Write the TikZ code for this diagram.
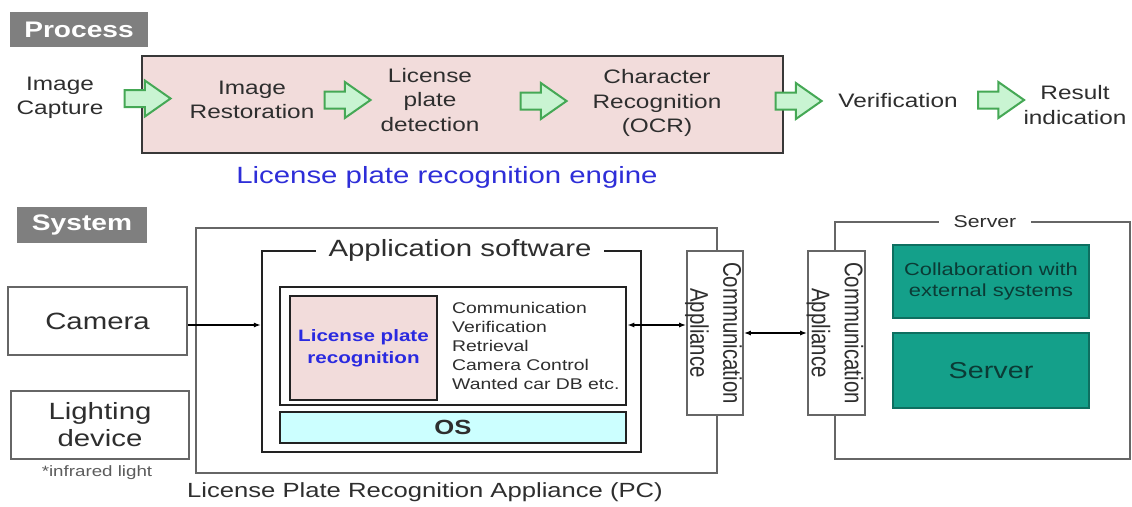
\documentclass[tikz,border=0pt]{standalone}
\usepackage{fontspec}
\setmainfont{Liberation Sans}[FakeStretch=1.25]
\newfontfamily\rotfont{Liberation Sans}[FakeStretch=0.8]
\usetikzlibrary{shapes.arrows,arrows.meta}

\definecolor{txt}{HTML}{2E2E2E}
\definecolor{pinkfill}{HTML}{F2DCDB}
\definecolor{arrowfill}{HTML}{C9F4D2}
\definecolor{arrowline}{HTML}{45A855}
\definecolor{tealfill}{HTML}{14A08A}
\definecolor{tealline}{HTML}{0E6F60}
\definecolor{tealtext}{HTML}{0B3B35}
\definecolor{engblue}{HTML}{2E2ED8}
\definecolor{lprblue}{HTML}{2A2AE0}
\definecolor{tagfill}{HTML}{7F7F7F}
\definecolor{osfill}{HTML}{CCFFFF}
\definecolor{frame}{HTML}{666666}
\definecolor{dark}{HTML}{222222}

\begin{document}
\begin{tikzpicture}[x=1pt,y=-1pt,
  every node/.style={text=txt, inner sep=0pt},
  tag/.style={fill=tagfill, text=white, font=\fontsize{22.5}{26}\selectfont\bfseries},
  proc/.style={align=center, font=\fontsize{19.5}{24.5}\selectfont},
  flow/.style={single arrow, draw=arrowline, fill=arrowfill, line width=2pt,
    minimum height=46pt, single arrow head extend=9.5pt, inner sep=7.5pt,
    single arrow tip angle=70},
  plainbox/.style={draw=frame, line width=1.6pt, fill=white},
  darkbox/.style={draw=dark, line width=2.2pt},
  tealbox/.style={draw=tealline, line width=1.6pt, fill=tealfill, text=tealtext},
  bigtxt/.style={font=\fontsize{23.5}{27}\selectfont},
  title/.style={fill=white, inner xsep=13pt, inner ysep=1pt},
  conn/.style={draw=black, line width=1.4pt},
  tip/.style={{Latex[length=7pt,width=5pt]}-{Latex[length=7pt,width=5pt]}}
]
\useasboundingbox (0,0) rectangle (1132,506);
\fill[white] (0,0) rectangle (1132,506);

% ---------- Process ----------
\node[tag, minimum width=138pt, minimum height=35pt] (proctag) at (79,29.5) {Process};

\node[draw=dark!90, line width=2pt, fill=pinkfill, minimum width=641pt, minimum height=97pt] (engine) at (462.5,104.5) {};

\node[proc] (capture) at (60,98) {Image\\Capture};
\node[proc] (restore) at (252,100) {Image\\Restoration};
\node[proc] (detect)  at (430,100) {License\\plate\\detection};
\node[proc] (ocr)     at (657,103) {Character\\Recognition\\(OCR)};
\node[proc] (verify)  at (898,101) {Verification};
\node[proc] (result)  at (1075,105) {Result\\indication};

\node[flow] (f1) at (141.5,98.5) {};
\node[flow] (f2) at (341.5,100) {};
\node[flow] (f3) at (537.5,101) {};
\node[flow] (f4) at (792.5,101) {};
\node[flow] (f5) at (995,100) {};

\node[text=engblue, font=\fontsize{23.5}{27}\selectfont] (enginelbl) at (447,177) {License plate recognition engine};

% ---------- System ----------
\node[tag, minimum width=130pt, minimum height=36pt] (systag) at (82,225) {System};

\node[plainbox, bigtxt, minimum width=179pt, minimum height=68pt] (camera) at (97.5,321) {Camera};
\node[plainbox, bigtxt, align=center, minimum width=178pt, minimum height=68pt] (light) at (100,425) {Lighting\\device};
\node[text=frame!90!black, font=\fontsize{15}{18}\selectfont] (infra) at (97,473) {*infrared light};

% appliance (PC)
\node[plainbox, minimum width=521pt, minimum height=245pt] (appliance) at (456.5,350.5) {};
\node[font=\fontsize{20.5}{24}\selectfont] (applbl) at (425,492) {License Plate Recognition Appliance (PC)};

\node[darkbox, minimum width=379pt, minimum height=201pt] (appsw) at (451.5,351.5) {};
\node[title, bigtxt] (appswlbl) at (460,250) {Application software};

\node[darkbox, line width=2.5pt, minimum width=346pt, minimum height=118pt] (inner) at (453,346) {};
\node[darkbox, fill=pinkfill, minimum width=147pt, minimum height=104pt] (lpr) at (363.5,348) {};
\node[text=lprblue, align=center, font=\fontsize{16.5}{22}\selectfont\bfseries] (lprlbl) at (lpr.center) {License plate\\recognition};
\node[anchor=west, align=left, font=\fontsize{15.5}{19}\selectfont] (funcs) at (452,346)
  {Communication\\Verification\\Retrieval\\Camera Control\\Wanted car DB etc.};
\node[darkbox, fill=osfill, minimum width=346pt, minimum height=31pt, font=\fontsize{20.5}{24}\selectfont\bfseries] (os) at (453,427.5) {OS};

% server side
\node[plainbox, minimum width=295pt, minimum height=237pt] (server) at (982.5,340.5) {};
\node[title, inner xsep=15pt, font=\fontsize{17}{20}\selectfont] (serverlbl) at (985,222) {Server};
\node[tealbox, align=center, font=\fontsize{17.5}{21}\selectfont, minimum width=196pt, minimum height=73pt] (collab) at (991,281.5) {Collaboration with\\external systems};
\node[tealbox, font=\fontsize{23}{27}\selectfont, minimum width=196pt, minimum height=75pt] (srvbox) at (991,370.5) {Server};

% communication appliances
\node[plainbox, minimum width=56pt, minimum height=164pt] (commL) at (715,333) {};
\node[rotate=-90, align=center, font=\rotfont\fontsize{25.5}{33}\selectfont] (commLtxt) at (713.5,333) {Communication\\Appliance};
\node[plainbox, minimum width=57pt, minimum height=164pt] (commR) at (836.5,333) {};
\node[rotate=-90, align=center, font=\rotfont\fontsize{25.5}{33}\selectfont] (commRtxt) at (835,333) {Communication\\Appliance};

% connectors
\coordinate (busy) at (0,325);
\draw[conn, -{Latex[length=7pt,width=5pt]}] (camera.east |- busy) -- (appsw.west |- busy);
\draw[conn, tip] (inner.east |- busy) -- (commL.west |- busy);
\draw[conn, tip] (commL.east) -- (commR.west);
\end{tikzpicture}
\end{document}
